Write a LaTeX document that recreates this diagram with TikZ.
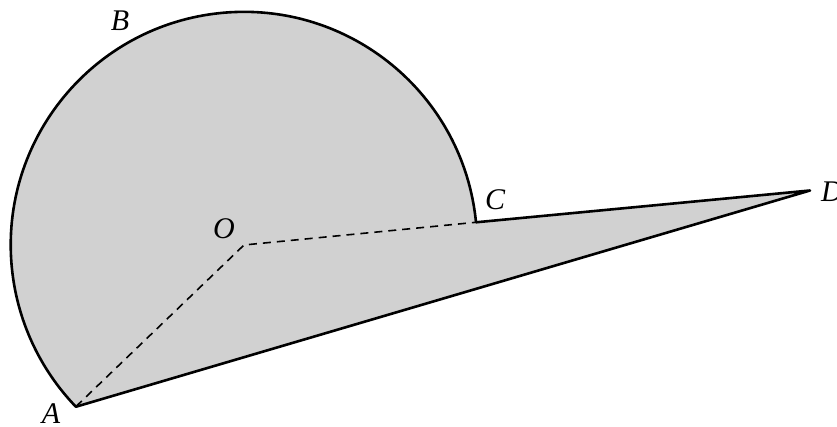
\documentclass[tikz,border=0pt]{standalone}
\usepackage{fontspec}
\setmainfont{Liberation Serif}
\begin{document}
\begin{tikzpicture}[x=1pt,y=1pt,
  edge/.style={line width=2.6pt,line join=round},
  aux/.style={line width=1.6pt,dash pattern=on 8pt off 6pt},
  lbl/.style={font=\itshape\fontsize{30}{30}\selectfont,inner sep=0pt}]
\useasboundingbox (0,0) rectangle (837,427);
\coordinate (O) at (244,182);
\coordinate (A) at (76,20.5);
\coordinate (C) at (476,204.7);
\coordinate (D) at (810,236.5);
\filldraw[edge,fill=black!18] (C) arc[start angle=5.6,end angle=223.9,radius=233.2] -- (D) -- cycle;
\draw[aux] (A) -- (O) -- (C);
\node[lbl] (lA) at (51,13) {A};
\node[lbl] (lB) at (120,406) {B};
\node[lbl] (lO) at (224,198) {O};
\node[lbl] (lC) at (495,227) {C};
\node[lbl] (lD) at (832,235) {D};
\end{tikzpicture}
\end{document}
